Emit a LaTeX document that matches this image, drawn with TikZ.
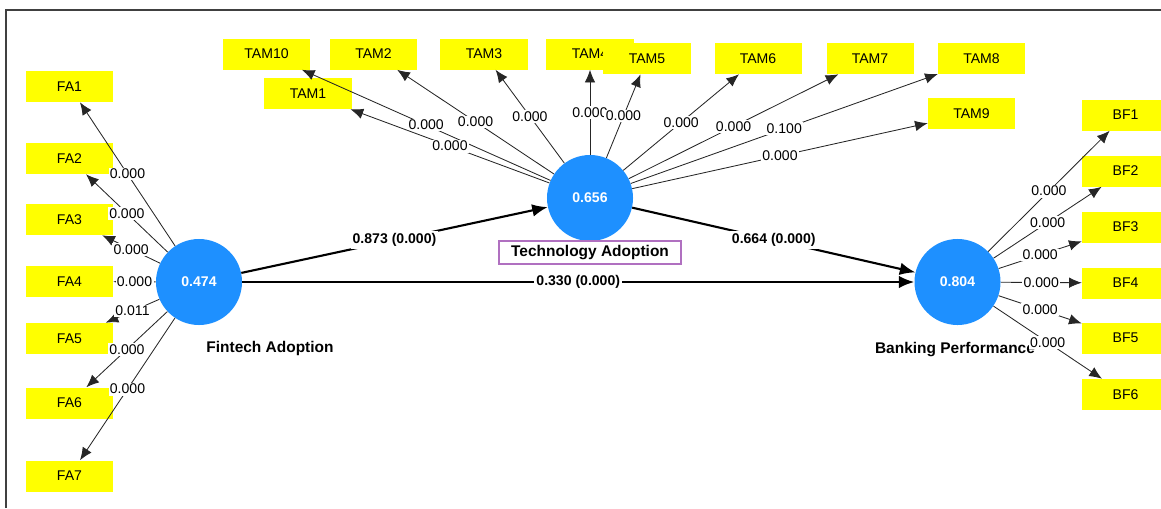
\documentclass[tikz,border=0pt]{standalone}
\usepackage{fontspec}
\setmainfont{Liberation Sans}
\usetikzlibrary{arrows.meta}
\definecolor{lvblue}{RGB}{30,144,255}
\definecolor{indyellow}{RGB}{255,255,0}
\definecolor{tagpurple}{RGB}{176,112,192}
\begin{document}
\begin{tikzpicture}[x=0.025cm,y=-0.025cm,
  ind/.style={fill=indyellow,minimum width=2.175cm,minimum height=0.775cm,inner sep=0pt,font=\fontsize{10}{12}\selectfont},
  lv/.style={shape=circle,fill=lvblue,minimum size=2.15cm,inner sep=0pt,text=white,font=\bfseries\fontsize{10}{12}\selectfont},
  lvname/.style={font=\bfseries\fontsize{11}{13}\selectfont},
  load/.style={-{Latex[length=9pt,width=7.5pt]},line width=0.6pt,draw=black!85},
  strarrow/.style={-{Latex[length=11pt,width=9pt]},line width=1.5pt},
  wt/.style={fill=white,inner sep=1pt,font=\fontsize{10}{12}\selectfont},
  coef/.style={fill=white,inner sep=1.5pt,font=\bfseries\fontsize{10}{12}\selectfont}]
\useasboundingbox (0,0) rectangle (1161,508);
\draw[line width=1.2pt,black!75] (6,508)--(6,10)--(1161,10);
% Fintech Adoption indicators
\node [ind,name=fa1] at (69.5,86.5){FA1};
\node [ind,name=fa2] at (69.5,158.5){FA2};
\node [ind,name=fa3] at (69.5,219.5){FA3};
\node [ind,name=fa4] at (69.5,281.5){FA4};
\node [ind,name=fa5] at (69.5,338.5){FA5};
\node [ind,name=fa6] at (69.5,403){FA6};
\node [ind,name=fa7] at (69.5,476){FA7};
% Technology Adoption indicators
\node [ind,name=tam10] at (266.5,54){TAM10};
\node [ind,name=tam2] at (373.5,54){TAM2};
\node [ind,name=tam3] at (484,54){TAM3};
\node [ind,name=tam4] at (590,54){TAM4};
\node [ind,name=tam5] at (647,58.5){TAM5};
\node [ind,name=tam6] at (758,58.5){TAM6};
\node [ind,name=tam7] at (870,58.5){TAM7};
\node [ind,name=tam8] at (981.5,58.5){TAM8};
\node [ind,name=tam9] at (971.5,113.5){TAM9};
\node [ind,name=tam1] at (308,93.5){TAM1};
% Banking Performance indicators
\node [ind,name=bf1] at (1125.5,115){BF1};
\node [ind,name=bf2] at (1125.5,171){BF2};
\node [ind,name=bf3] at (1125.5,227){BF3};
\node [ind,name=bf4] at (1125.5,283){BF4};
\node [ind,name=bf5] at (1125.5,338){BF5};
\node [ind,name=bf6] at (1125.5,394.5){BF6};
% constructs
\node [lv,name=fa] at (199,282){0.474};
\node [lv,name=ta] at (590,198){0.656};
\node [lv,name=bp] at (957.5,282){0.804};
\node [lvname,name=faname] at (270,348){Fintech Adoption};
\node [lvname,name=bpname] at (955,350){Banking Performance};
\node [lvname,name=taname,draw=tagpurple,line width=0.8pt,fill=white,minimum width=4.55cm,minimum height=0.575cm,inner sep=0pt] at (590,252.5){Technology Adoption};
% outer loadings
\draw[load] (fa)--node[wt]{0.000}(fa1);
\draw[load] (fa)--node[wt]{0.000}(fa2);
\draw[load] (fa)--node[wt]{0.000}(fa3);
\draw[load] (fa)--node[wt]{0.000}(fa4);
\draw[load] (fa)--node[wt]{0.011}(fa5);
\draw[load] (fa)--node[wt]{0.000}(fa6);
\draw[load] (fa)--node[wt]{0.000}(fa7);
\draw[load] (ta)--node[wt]{0.000}(tam10);
\draw[load] (ta)--node[wt]{0.000}(tam1);
\draw[load] (ta)--node[wt]{0.000}(tam2);
\draw[load] (ta)--node[wt]{0.000}(tam3);
\draw[load] (ta)--node[wt]{0.000}(tam4);
\draw[load] (ta)--node[wt]{0.000}(tam5);
\draw[load] (ta)--node[wt]{0.000}(tam6);
\draw[load] (ta)--node[wt]{0.000}(tam7);
\draw[load] (ta)--node[wt]{0.100}(tam8);
\draw[load] (ta)--node[wt]{0.000}(tam9);
\draw[load] (bp)--node[wt]{0.000}(bf1);
\draw[load] (bp)--node[wt]{0.000}(bf2);
\draw[load] (bp)--node[wt]{0.000}(bf3);
\draw[load] (bp)--node[wt]{0.000}(bf4);
\draw[load] (bp)--node[wt]{0.000}(bf5);
\draw[load] (bp)--node[wt]{0.000}(bf6);
% path coefficients
\draw[strarrow] (fa)--node[coef]{0.873 (0.000)}(ta);
\draw[strarrow] (ta)--node[coef]{0.664 (0.000)}(bp);
\draw[strarrow] (fa)--node[coef]{0.330 (0.000)}(bp);
\end{tikzpicture}
\end{document}
